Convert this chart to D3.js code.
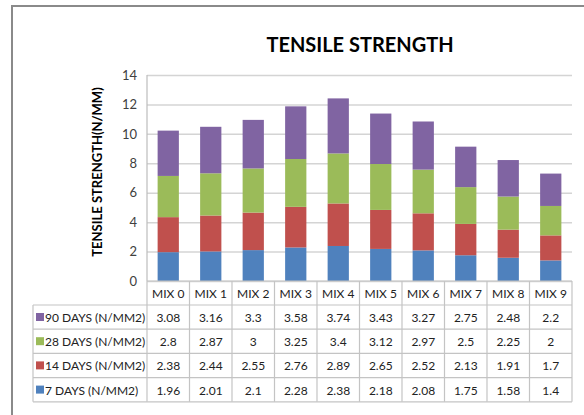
<!DOCTYPE html>
<html><head><meta charset="utf-8">
<script src="https://cdn.jsdelivr.net/npm/d3@7"></script>
<style>
html,body{margin:0;padding:0;background:#fff;}
svg{display:block;}
text{font-family:Lato,"Open Sans",sans-serif;font-weight:400;}
</style></head>
<body>
<svg id="c" width="584" height="415"></svg>
<script>
const categories = ["MIX 0","MIX 1","MIX 2","MIX 3","MIX 4","MIX 5","MIX 6","MIX 7","MIX 8","MIX 9"];
const days7  = [1.96,2.01,2.1,2.28,2.38,2.18,2.08,1.75,1.58,1.4];
const days14 = [2.38,2.44,2.55,2.76,2.89,2.65,2.52,2.13,1.91,1.7];
const days28 = [2.8,2.87,3,3.25,3.4,3.12,2.97,2.5,2.25,2];
const days90 = [3.08,3.16,3.3,3.58,3.74,3.43,3.27,2.75,2.48,2.2];
const seriesNames = ["7 DAYS (N/MM2)","14 DAYS (N/MM2)","28 DAYS (N/MM2)","90 DAYS (N/MM2)"];
const seriesColors = ["#4F81BD","#C0504D","#9BBB59","#8064A2"];
const yTicks = [0,2,4,6,8,10,12,14];
const title = "TENSILE STRENGTH";
const yTitle = "TENSILE STRENGTH(N/MM)";

const seriesValues = [days7, days14, days28, days90];
const rows = categories.map((c,i)=>{
  const o={cat:c}; seriesNames.forEach((s,j)=>o[s]=seriesValues[j][i]); return o;
});

const svg = d3.select("#c");
const L=147, R=572, T=75, B=281;
const tableRowH = 24.2;

svg.append("path").attr("d","M12,415 V6 H584").attr("fill","none").attr("stroke","#8a8a8a").attr("stroke-width",2);

const x = d3.scaleBand().domain(categories).range([L,R]).paddingInner(0.5).paddingOuter(0.25);
const xc = d3.scaleBand().domain(categories).range([L,R]);
const y = d3.scaleLinear().domain([0,14]).range([B,T]);

const yAxis = d3.axisLeft(y).tickValues(yTicks).tickSize(-(R-L)).tickFormat(d3.format("d"));
const ga = svg.append("g").attr("transform",`translate(${L},0)`).call(yAxis);
ga.select(".domain").remove();
ga.selectAll(".tick line").attr("stroke","#d4d4d4").attr("stroke-width",1.5);
ga.selectAll(".tick text").attr("x",-10).attr("fill","#404040").style("font-size","13px")
  .attr("font-family",null);

const stack = d3.stack().keys(seriesNames)(rows);
svg.append("g").selectAll("g").data(stack).join("g")
  .attr("fill",(d,i)=>seriesColors[i])
  .selectAll("rect").data(d=>d).join("rect")
  .attr("x",d=>x(d.data.cat)).attr("width",x.bandwidth())
  .attr("y",d=>y(d[1])).attr("height",d=>y(d[0])-y(d[1]));

svg.append("line").attr("x1",L).attr("x2",L).attr("y1",T).attr("y2",B).attr("stroke","#bdbdbd").attr("stroke-width",1.2);

svg.append("text").attr("x",360).attr("y",52).attr("text-anchor","middle")
  .style("font-size","20px").style("font-weight","bold").attr("fill","#000").text(title);
svg.append("text").attr("transform",`translate(102,172) rotate(-90)`).attr("text-anchor","middle")
  .style("font-size","13px").style("font-weight","bold").attr("fill","#000").text(yTitle);

const tbl = svg.append("g");
const tLeft = 33;
const headerBot = B+24;
const order = [3,2,1,0];
const lineC = "#c4c4c4";
tbl.append("line").attr("x1",L).attr("x2",R).attr("y1",B).attr("y2",B).attr("stroke",lineC).attr("stroke-width",1.2);
const rowTops = order.map((_,k)=>headerBot + k*tableRowH);
const tableBottom = headerBot + order.length*tableRowH;
[headerBot, ...rowTops.slice(1), tableBottom].forEach(yy=>{
  tbl.append("line").attr("x1",tLeft).attr("x2",R).attr("y1",yy).attr("y2",yy).attr("stroke",lineC).attr("stroke-width",1.2);
});
tbl.append("line").attr("x1",tLeft).attr("x2",tLeft).attr("y1",headerBot).attr("y2",tableBottom).attr("stroke",lineC).attr("stroke-width",1.2);
categories.forEach(c=>{
  tbl.append("line").attr("x1",xc(c)).attr("x2",xc(c)).attr("y1",B).attr("y2",tableBottom).attr("stroke",lineC).attr("stroke-width",1.2);
});
tbl.append("line").attr("x1",R).attr("x2",R).attr("y1",B).attr("y2",tableBottom).attr("stroke",lineC).attr("stroke-width",1.2);
tbl.selectAll("text.h").data(categories).join("text").attr("class","h")
  .attr("x",c=>xc(c)+xc.bandwidth()/2).attr("y",B+17).attr("text-anchor","middle")
  .attr("fill","#222").style("font-size","12px").text(c=>c);
order.forEach((si,k)=>{
  const top = rowTops[k];
  tbl.append("rect").attr("x",36).attr("y",top+8).attr("width",8).attr("height",8).attr("fill",seriesColors[si]);
  tbl.append("text").attr("x",45).attr("y",top+17).attr("fill","#222").style("font-size","12px").text(seriesNames[si]);
  categories.forEach((c,i)=>{
    tbl.append("text").attr("x",xc(c)+xc.bandwidth()/2).attr("y",top+17).attr("text-anchor","middle")
      .attr("fill","#222").style("font-size","12px").text(seriesValues[si][i]);
  });
});
</script>
</body></html>
